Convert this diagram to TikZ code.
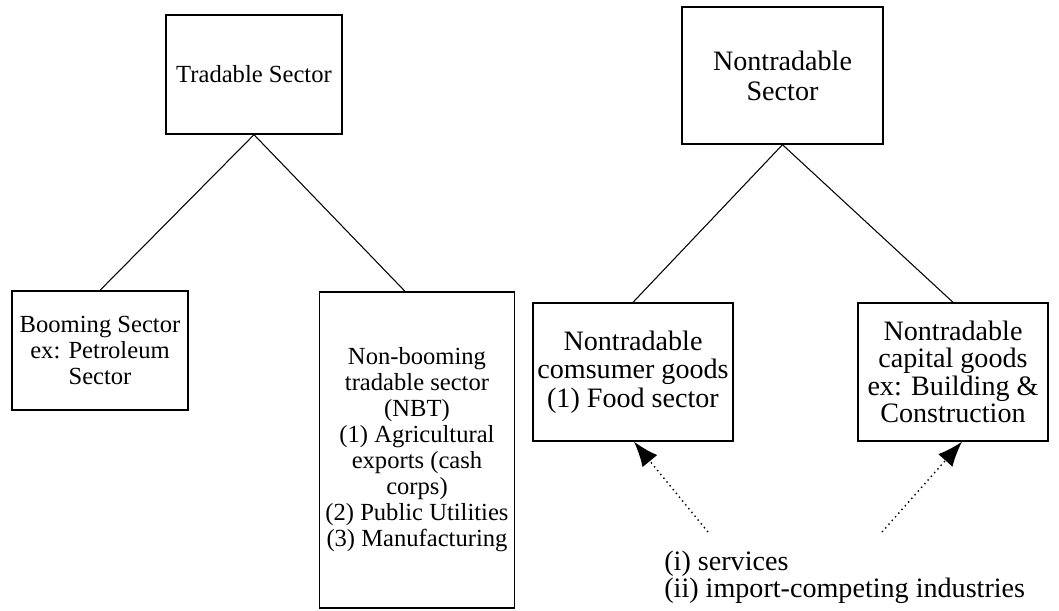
\documentclass[tikz,border=0pt]{standalone}
\usepackage{fontspec}
\setmainfont{Liberation Serif}
\usetikzlibrary{arrows.meta}

\tikzset{
	sector/.style={draw, line width=0.8pt, align=center, inner sep=0pt},
	leftfont/.style={font=\fontsize{14}{14.8}\selectfont},
	rightfont/.style={font=\fontsize{16}{15.6}\selectfont},
	feed/.style={dotted, line width=0.8pt, -{Latex[length=5mm,width=3.8mm]}}
}

\begin{document}
\begin{tikzpicture}[x=0.02cm, y=-0.02cm]
		\useasboundingbox (0,0) rectangle (1059,610);
		\node[sector, leftfont, minimum width=3.52cm, minimum height=2.38cm] (trad) at (254,74.5) {Tradable Sector};
		\node[sector, rightfont, minimum width=4.02cm, minimum height=2.74cm, font=\fontsize{16}{17}\selectfont] (nontrad) at (782.5,75.5) {Nontradable\\Sector};
		\node[sector, leftfont, minimum width=3.52cm, minimum height=2.38cm] (boom) at (100,350.5) {Booming Sector\\ex: Petroleum\\Sector};
		\node[sector, leftfont, minimum width=3.9cm, minimum height=6.32cm] (nbt) at (417,450) {Non-booming\\tradable sector\\(NBT)\\(1) Agricultural\\exports (cash\\corps)\\(2) Public Utilities\\(3) Manufacturing};
		\node[sector, rightfont, minimum width=4cm, minimum height=2.76cm, font=\fontsize{16}{16.2}\selectfont] (cons) at (633,372) {Nontradable\\comsumer goods\\(1) Food sector};
		\node[sector, rightfont, minimum width=3.8cm, minimum height=2.76cm] (cap) at (953,372) {Nontradable\\capital goods\\ex: Building \&\\Construction};
		\node[rightfont, align=left, anchor=west, inner sep=0pt] (goods) at (664,577) {(i) services\\(ii) import-competing industries};
		\coordinate (src1) at (708,532);
		\coordinate (src2) at (882,532);
		\draw[line width=0.6pt] (trad.south) -- (boom.north);
		\draw[line width=0.6pt] (trad.south) -- ([xshift=-0.24cm]nbt.north);
		\draw[line width=0.6pt] (nontrad.south) -- (cons.north);
		\draw[line width=0.6pt] (nontrad.south) -- (cap.north);
		\draw[feed] (src1) -- ([xshift=0.02cm]cons.south);
		\draw[feed] (src2) -- ([xshift=0.18cm]cap.south);
	\end{tikzpicture}
\end{document}
